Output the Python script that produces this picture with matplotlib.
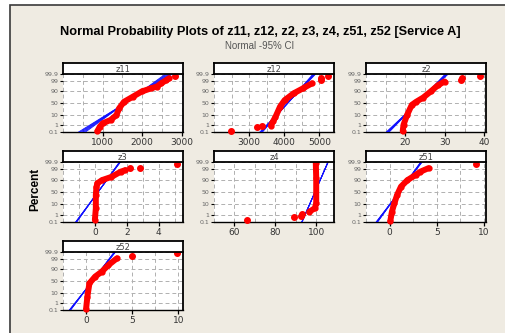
import math
import numpy as np
import matplotlib
matplotlib.use('Agg')
import matplotlib.pyplot as plt
from matplotlib.patches import Rectangle

names = ['z11', 'z12', 'z2', 'z3', 'z4', 'z51', 'z52']

# red points: value, cumulative percent
z11_x = [870, 930, 1000, 1200, 1350, 1420, 1540, 1765, 1990, 2220, 2370, 2480, 2600, 2675]
z11_p = [0.14, 0.6, 1.5, 3.5, 10, 29, 55, 75, 89, 94, 96, 98.2, 99.2, 99.57]
z12_x = [3620, 3680, 3750, 3880, 4010, 4270, 4530, 4790]
z12_p = [0.8, 2.5, 7, 35, 62, 85, 94, 98.2]
z2_x = [19.3, 19.5, 20.4, 21.6, 22.7, 24.5, 26.4, 28.2, 29.9]
z2_p = [0.13, 1, 10, 42, 55, 72, 89, 97, 98.9]
z3_x = [0.0, 0.06, 0.06, 0.1, 0.16, 0.45, 1.04, 1.63, 1.92]
z3_p = [0.2, 4.6, 38, 70, 81.6, 89, 94, 98.2, 98.8]
z4_x = [96.6, 99.3, 100.0, 100.0, 99.8]
z4_p = [2.1, 4.7, 12, 92, 99.85]
z51_x = [0.07, 0.24, 0.5, 0.79, 1.2, 1.89, 2.75, 3.26, 4.12]
z51_p = [0.13, 2.1, 12, 38, 71, 89, 96, 98.2, 99.3]
z52_x = [0.0, 0.14, 0.36, 0.98, 1.7, 2.42, 3.33]
z52_p = [0.14, 4.7, 40, 68, 84, 95.5, 99.2]

# isolated points
z11_ox, z11_op = [2840], [99.8]
z12_ox, z12_op = [2480, 3230, 3360, 5040, 5040, 5240], [0.12, 0.5, 0.8, 99.3, 99.6, 99.8]
z2_ox, z2_op = [34.1, 34.2, 39.0], [99.3, 99.6, 99.8]
z3_ox, z3_op = [2.2, 2.84, 5.16], [99.3, 99.4, 99.8]
z4_ox, z4_op = [66.0, 89.1, 92.5, 93.2], [0.2, 0.47, 0.7, 1.1]
z51_ox, z51_op = [9.18], [99.8]
z52_ox, z52_op = [4.96, 9.86], [99.65, 99.84]

# fitted normal lines
fit_mu = [1578, 4100, 23.0, 0.2, 99.4, 1.01, 0.69]
fit_sd = [355, 245, 2.42, 0.445, 2.07, 0.763, 0.787]
fan = [0.08, 0.05, 0.05, 0.025, 0.015, 0.035, 0.03]

xlims = [(300, 3030), (2300, 5415), (14, 40.4), (-1.53, 5.53), (59.2, 108.7), (-1.95, 10.2), (-2.5, 10.5)]
xticks = [[1000, 2000, 3000], [3000, 4000, 5000], [20, 30, 40], [0, 2, 4], [60, 80, 100], [0, 5, 10], [0, 5, 10]]
grid_step = [500, 500, 5, 1, 10, 2.5, 2.5]
yticks = [0.1, 1, 10, 50, 90, 99, 99.9]
ylabels = ['0.1', '1', '10', '50', '90', '99', '99.9']

pts_x = [z11_x, z12_x, z2_x, z3_x, z4_x, z51_x, z52_x]
pts_p = [z11_p, z12_p, z2_p, z3_p, z4_p, z51_p, z52_p]
out_x = [z11_ox, z12_ox, z2_ox, z3_ox, z4_ox, z51_ox, z52_ox]
out_p = [z11_op, z12_op, z2_op, z3_op, z4_op, z51_op, z52_op]

# normal quantile (Acklam) and cdf, in percent
a = [-3.969683028665376e+01, 2.209460984245205e+02, -2.759285104469687e+02,
     1.383577518672690e+02, -3.066479806614716e+01, 2.506628277459239e+00]
b = [-5.447609879822406e+01, 1.615858368580409e+02, -1.556989798598866e+02,
     6.680131188771972e+01, -1.328068155288572e+01]
c = [-7.784894002430293e-03, -3.223964580411365e-01, -2.400758277161838e+00,
     -2.549671348283234e+00, 4.374664141464968e+00, 2.938163982698783e+00]
d = [7.784695709041462e-03, 3.224671290700398e-01, 2.445134137142996e+00,
     3.754408661907416e+00]


def ppf1(p):
    plow = 0.02425
    if p < plow:
        q = math.sqrt(-2 * math.log(p))
        return (((((c[0]*q+c[1])*q+c[2])*q+c[3])*q+c[4])*q+c[5]) / \
            ((((d[0]*q+d[1])*q+d[2])*q+d[3])*q+1)
    if p > 1 - plow:
        q = math.sqrt(-2 * math.log(1 - p))
        return -(((((c[0]*q+c[1])*q+c[2])*q+c[3])*q+c[4])*q+c[5]) / \
            ((((d[0]*q+d[1])*q+d[2])*q+d[3])*q+1)
    q = p - 0.5
    r = q * q
    return (((((a[0]*r+a[1])*r+a[2])*r+a[3])*r+a[4])*r+a[5])*q / \
        (((((b[0]*r+b[1])*r+b[2])*r+b[3])*r+b[4])*r+1)


ppf_v = np.vectorize(ppf1, otypes=[float])
cdf_v = np.vectorize(lambda t: 50.0 * (1 + math.erf(t / math.sqrt(2))), otypes=[float])


def fwd(v):
    v = np.clip(np.asarray(v, dtype=float) / 100.0, 1e-9, 1 - 1e-9)
    return ppf_v(v)


def inv(z):
    return cdf_v(np.asarray(z, dtype=float))


W, H = 506, 333
fig = plt.figure(figsize=(W / 100, H / 100), dpi=100, facecolor='white')
fig.patches.append(Rectangle((10 / W, -0.1), 1.2, 1 - 5 / H + 0.1, transform=fig.transFigure,
                             facecolor='#efebe2', edgecolor='#3a3a3a', lw=1.2, zorder=-10))

fig.text(260 / W, 1 - 32 / H, 'Normal Probability Plots of z11, z12, z2, z3, z4, z51, z52 [Service A]',
         ha='center', va='center', fontsize=9.2, fontweight='bold', family='Liberation Sans')
fig.text(260 / W, 1 - 46 / H, 'Normal -95% CI', ha='center', va='center', fontsize=7,
         color='#555555', family='Liberation Sans')
fig.text(35 / W, 1 - 189 / H, 'Percent', ha='center', va='center', rotation=90, fontsize=8.5,
         fontweight='bold', family='Liberation Sans')

lefts = [63, 214, 366]
rows = [(63, 74, 132), (151, 162, 222), (241, 252, 310)]
pw = 120

for i, name in enumerate(names):
    r, col = divmod(i, 3)
    top, strip, bot = rows[r]
    x0 = lefts[col]
    ax = fig.add_axes([x0 / W, 1 - bot / H, pw / W, (bot - strip) / H])
    hx = fig.add_axes([x0 / W, 1 - strip / H, pw / W, (strip - top) / H])
    hx.set_xticks([])
    hx.set_yticks([])
    for s in hx.spines.values():
        s.set_linewidth(1.3)
    hx.text(0.5, 0.45, name, ha='center', va='center', fontsize=6, color='#444444',
            transform=hx.transAxes)

    ax.set_yscale('function', functions=(fwd, inv))
    ax.set_ylim(0.1, 99.9)
    ax.set_xlim(*xlims[i])

    # fitted line with confidence fan
    zz = np.array([-3.3, 3.3])
    for k in np.linspace(-fan[i], fan[i], 6):
        xl = fit_mu[i] + fit_sd[i] * (1 + k) * zz
        ax.plot(xl, inv(zz), color='#1010ff', lw=0.6, zorder=3)

    ax.plot(pts_x[i], pts_p[i], color='#ff0000', lw=4.3, marker='o', ms=3.5,
            solid_capstyle='round', solid_joinstyle='round', zorder=4, clip_on=False)
    ax.plot(out_x[i], out_p[i], color='#ff0000', lw=0, marker='o', ms=4, zorder=4, clip_on=False)

    ax.set_yticks(yticks)
    ax.set_yticklabels(ylabels)
    ax.yaxis.set_minor_locator(matplotlib.ticker.NullLocator())
    ax.set_xticks(xticks[i])
    ax.set_xticks(np.arange(xlims[i][0] // grid_step[i] * grid_step[i], xlims[i][1], grid_step[i]), minor=True)
    ax.tick_params(axis='y', labelsize=4.5, labelcolor='#666666', length=2.5, width=0.8, pad=1)
    ax.tick_params(axis='x', which='major', labelsize=6.5, labelcolor='#333333', length=3, width=0.9, pad=1.5)
    ax.tick_params(axis='x', which='minor', length=0)
    ax.grid(True, which='both', axis='x', color='#b0b0b0', ls=(0, (4, 3)), lw=0.7)
    ax.grid(True, which='major', axis='y', color='#b0b0b0', ls=(0, (4, 3)), lw=0.7)
    ax.spines['left'].set_visible(False)
    ax.spines['top'].set_visible(False)
    ax.spines['right'].set_linewidth(1.3)
    ax.spines['bottom'].set_linewidth(1.0)

fig.savefig('out.png', dpi=100, facecolor=fig.get_facecolor())
